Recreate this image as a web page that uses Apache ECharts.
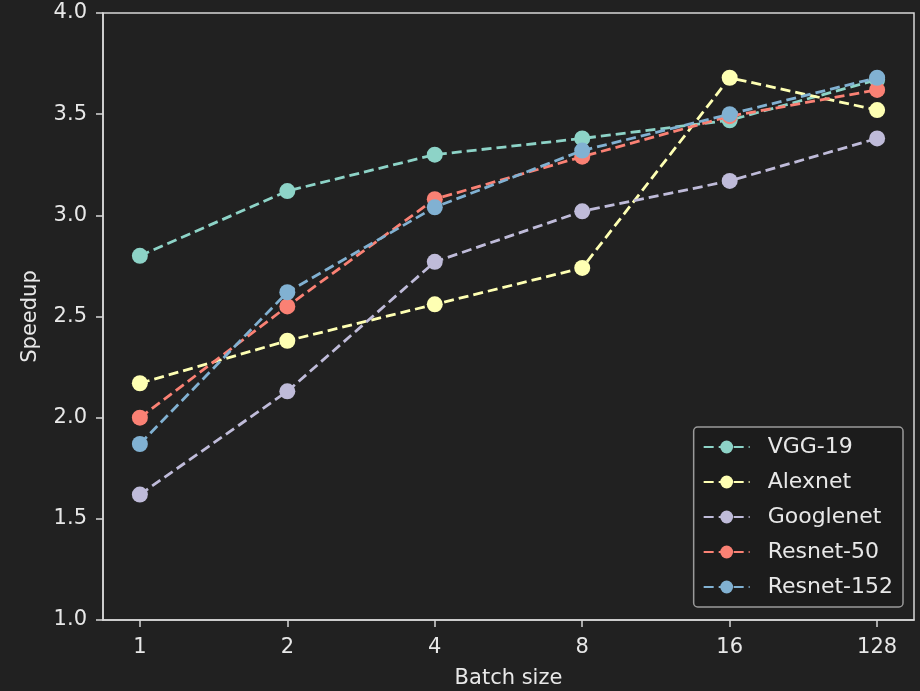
<!DOCTYPE html>
<html>
<head>
<meta charset="utf-8">
<script src="https://cdn.jsdelivr.net/npm/echarts@6/dist/echarts.min.js"></script>
<style>html,body{margin:0;padding:0;background:#212121;}#c{width:920px;height:691px;}</style>
</head>
<body>
<div id="c"></div>
<script>
const categories = ['1', '2', '4', '8', '16', '128'];
const seriesNames = ['VGG-19', 'Alexnet', 'Googlenet', 'Resnet-50', 'Resnet-152'];
const vgg19 = [2.80, 3.12, 3.30, 3.38, 3.47, 3.67];
const alexnet = [2.17, 2.38, 2.56, 2.74, 3.68, 3.52];
const googlenet = [1.62, 2.13, 2.77, 3.02, 3.17, 3.38];
const resnet50 = [2.00, 2.55, 3.08, 3.29, 3.49, 3.62];
const resnet152 = [1.87, 2.62, 3.04, 3.32, 3.50, 3.68];
const yTicks = [1.0, 1.5, 2.0, 2.5, 3.0, 3.5, 4.0];
const colors = ['#8dd3c7', '#feffb3', '#bfbbd9', '#fa8174', '#81b1d2'];

const allData = [vgg19, alexnet, googlenet, resnet50, resnet152];
const textColor = '#e8e8e8';
const axisColor = '#d8d8d8';
const font = 'DejaVu Sans';

const chart = echarts.init(document.getElementById('c'), null, {renderer: 'canvas'});
chart.setOption({
  backgroundColor: '#212121',
  animation: false,
  textStyle: {fontFamily: font},
  grid: {left: 103, right: 6, top: 13, bottom: 71, outerBoundsMode: 'none', containLabel: false, show: true, borderColor: axisColor, borderWidth: 1.5, backgroundColor: 'transparent'},
  legend: {
    right: 17, bottom: 84, orient: 'vertical',
    data: seriesNames,
    backgroundColor: '#1c1c1c',
    borderColor: '#9a9a9a', borderWidth: 1.5, borderRadius: 4,
    padding: [9, 10, 9, 9],
    itemGap: 13, itemWidth: 46, itemHeight: 16,
    textStyle: {color: textColor, fontSize: 22, fontFamily: font, padding: [0, 0, 0, 13]}
  },
  xAxis: {
    type: 'value', min: -0.25, max: 5.25,
    name: 'Batch size', nameLocation: 'middle', nameGap: 48,
    nameTextStyle: {color: textColor, fontSize: 21, fontFamily: font},
    axisLine: {show: true, onZero: false, lineStyle: {color: axisColor, width: 1.5}},
    axisTick: {show: true, length: 7, lineStyle: {color: axisColor, width: 1.5}, customValues: [0,1,2,3,4,5]},
    axisLabel: {color: textColor, fontSize: 21, margin: 17, customValues: [0,1,2,3,4,5], formatter: v => categories[Math.round(v)]},
    splitLine: {show: false}
  },
  yAxis: {
    type: 'value', min: 1.0, max: 4.0, interval: 0.5,
    name: 'Speedup', nameLocation: 'middle', nameGap: 62,
    nameTextStyle: {color: textColor, fontSize: 21, fontFamily: font},
    axisLine: {show: true, onZero: false, lineStyle: {color: axisColor, width: 1.5}},
    axisTick: {show: true, length: 7, lineStyle: {color: axisColor, width: 1.5}},
    axisLabel: {color: textColor, fontSize: 21, margin: 16, formatter: v => v.toFixed(1)},
    splitLine: {show: false}
  },
  series: seriesNames.map((n, i) => ({
    name: n, type: 'line',
    data: allData[i].map((v, j) => [j, v]),
    symbol: 'circle', symbolSize: 16,
    itemStyle: {color: colors[i]},
    lineStyle: {color: colors[i], width: 2.8, type: [10, 5]},
    z: 2 + i
  }))
});
</script>
</body>
</html>
